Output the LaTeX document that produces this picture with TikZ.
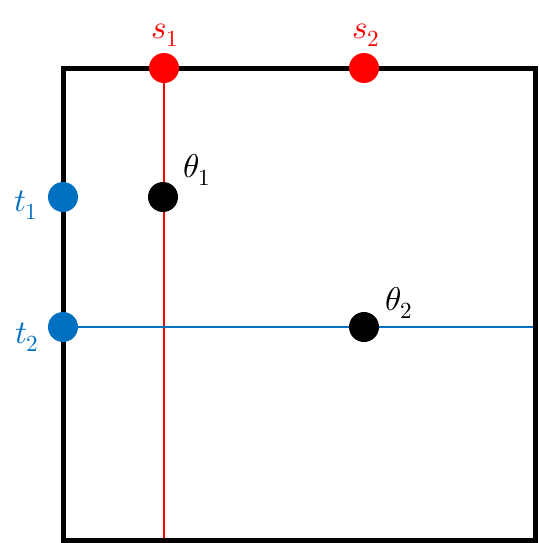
\documentclass[tikz,border=0pt]{standalone}
\usepackage{unicode-math}
\usetikzlibrary{backgrounds}
\definecolor{sred}{HTML}{FF0000}
\definecolor{tblue}{HTML}{0070C0}
\begin{document}
\begin{tikzpicture}[x=1pt, y=-1pt,
    every node/.style={font=\fontsize{33}{40}\selectfont},
    dot/.style={circle, fill, inner sep=0pt, minimum size=30pt},
    lbl/.style={anchor=base, inner sep=0pt},
    frame/.style={draw=black, line width=5pt},
    ray/.style={line width=1.5pt}]
  \useasboundingbox (0,0) rectangle (538,543);

  % square
  \draw[frame] (63,68) rectangle (535,540);
  \coordinate (bot) at (164,540);
  \coordinate (rgt) at (535,327);

  % points
  \node[dot, sred]  (s1)  at (164, 68) {};
  \node[dot, sred]  (s2)  at (364, 68) {};
  \node[dot, tblue] (t1)  at ( 63,197) {};
  \node[dot, tblue] (t2)  at ( 63,327) {};
  \node[dot, black] (th1) at (163,197) {};
  \node[dot, black] (th2) at (364,327) {};

  % labels
  \node[lbl, text=sred]  (ls1)  at (165, 38) {$s_1$};
  \node[lbl, text=sred]  (ls2)  at (366, 38) {$s_2$};
  \node[lbl, text=tblue] (lt1)  at ( 26,211) {$t_1$};
  \node[lbl, text=tblue] (lt2)  at ( 27,343) {$t_2$};
  \node[lbl]             (lth1) at (197,177) {$\theta_1$};
  \node[lbl]             (lth2) at (399,310) {$\theta_2$};

  \begin{scope}[on background layer]
    \draw[ray, sred]  (s1) -- (bot);
    \draw[ray, tblue] (t2) -- (rgt);
  \end{scope}
\end{tikzpicture}
\end{document}
